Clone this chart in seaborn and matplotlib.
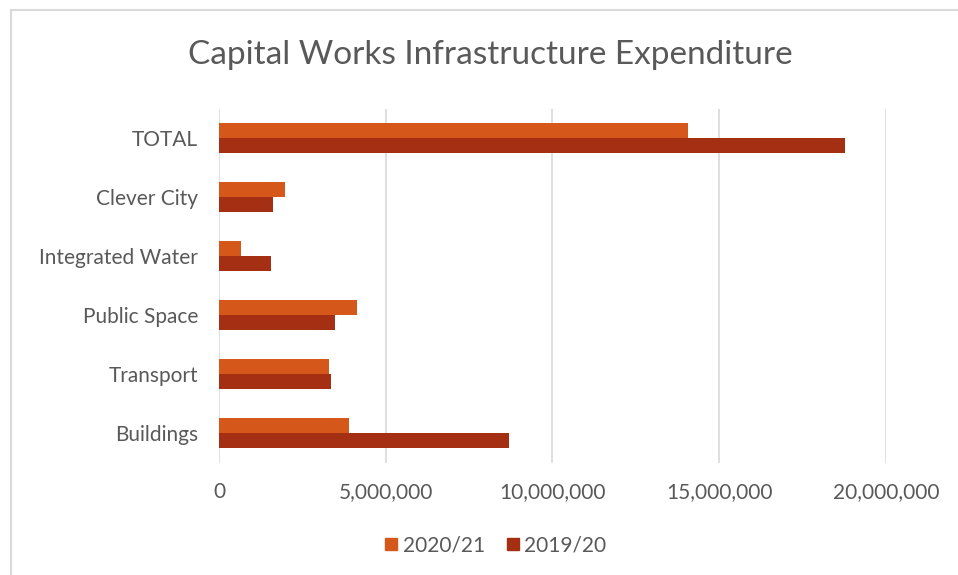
import matplotlib
matplotlib.use("Agg")
import matplotlib.pyplot as plt
from matplotlib.lines import Line2D
from matplotlib.ticker import FuncFormatter
import seaborn as sns
import pandas as pd

categories = ["TOTAL", "Clever City", "Integrated Water", "Public Space", "Transport", "Buildings"]
series_names = ["2020/21", "2019/20"]
values_2020_21 = [14070000, 1980000, 660000, 4140000, 3300000, 3900000]
values_2019_20 = [18760000, 1630000, 1570000, 3480000, 3370000, 8690000]
x_ticks = [0, 5000000, 10000000, 15000000, 20000000]

colors = ["#D5581A", "#A52F12"]
text_color = "#595959"

df = pd.DataFrame({
    "category": categories * 2,
    "series": [series_names[0]] * len(categories) + [series_names[1]] * len(categories),
    "value": values_2020_21 + values_2019_20,
})

sns.set_theme(style="white")
plt.rcParams["font.family"] = ["Lato", "DejaVu Sans"]

fig = plt.figure(figsize=(9.58, 5.75), dpi=100)
ax = fig.add_axes([219 / 958, 1 - 462.5 / 575, (886 - 219) / 958, (462.5 - 108.5) / 575])

sns.barplot(data=df, x="value", y="category", hue="series", order=categories,
            hue_order=series_names, palette=colors, orient="h", width=0.51,
            gap=0, ax=ax, legend=False, saturation=1, linewidth=0)

ax.set_xlim(0, 20000000)
ax.set_xticks(x_ticks)
ax.xaxis.set_major_formatter(FuncFormatter(lambda v, p: f"{int(v):,}"))
ax.grid(axis="x", color="#D9D9D9", linewidth=1.2)
ax.set_axisbelow(True)
for s in ax.spines.values():
    s.set_visible(False)
ax.set_xlabel("")
ax.set_ylabel("")
ax.tick_params(axis="x", length=0, pad=14, labelsize=15, labelcolor=text_color)
ax.tick_params(axis="y", length=0, pad=15, labelsize=15, labelcolor=text_color)

fig.text(0.512, 1 - 55 / 575, "Capital Works Infrastructure Expenditure", ha="center", va="center",
         fontsize=24, color=text_color)

handles = [Line2D([0], [0], marker="s", linestyle="none", markersize=9,
                  markerfacecolor=c, markeredgecolor=c) for c in colors]
fig.legend(handles, series_names, loc="center", bbox_to_anchor=(0.517, 1 - 545 / 575), ncol=2,
           frameon=False, fontsize=15, labelcolor=text_color, handletextpad=0.2,
           columnspacing=1.0, handlelength=0.7)

# outer chart frame (top and left edges visible)
fig.add_artist(Line2D([11 / 958, 11 / 958], [0, 1 - 10 / 575], transform=fig.transFigure,
                      color="#D9D9D9", linewidth=1.5))
fig.add_artist(Line2D([11 / 958, 1], [1 - 10 / 575, 1 - 10 / 575], transform=fig.transFigure,
                      color="#D9D9D9", linewidth=1.5))

fig.savefig("out.png", dpi=100, facecolor="white")
